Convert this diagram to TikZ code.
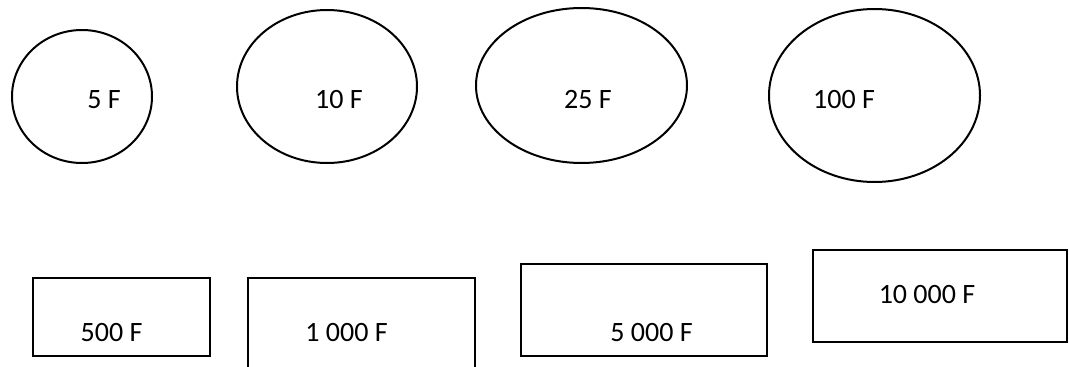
\documentclass[tikz,border=0pt]{standalone}
\usepackage{fontspec}
\setmainfont{Carlito}
\usetikzlibrary{shapes.geometric}
\tikzset{
  coin/.style={draw=black, line width=2pt, ellipse, inner sep=0pt, outer sep=0pt},
  note/.style={draw=black, line width=2pt, rectangle, inner sep=0pt, outer sep=0pt},
  val/.style={font=\fontsize{28}{32}\selectfont, inner sep=0pt, anchor=center}
}
\begin{document}
\begin{tikzpicture}[x=1pt,y=-1pt]
\useasboundingbox (0,0) rectangle (1069,367);
\clip (0,0) rectangle (1069,367);
% coins
\node[coin, minimum width=140, minimum height=133] (c5) at (82,96.5) {};
\node[val] (t5) at (104,99.5) {5 F};
\node[coin, minimum width=180, minimum height=153] (c10) at (327,86.5) {};
\node[val] (t10) at (339,99.5) {10 F};
\node[coin, minimum width=211, minimum height=155] (c25) at (581.5,85.5) {};
\node[val] (t25) at (588,99.5) {25 F};
\node[coin, minimum width=211, minimum height=173] (c100) at (874.5,95.5) {};
\node[val] (t100) at (844,99.5) {100 F};
% notes
\node[note, minimum width=177, minimum height=78] (n500) at (121.5,317) {};
\node[val] (t500) at (111.5,333) {500 F};
\node[note, minimum width=227, minimum height=89.5] (n1000) at (361.5,322.75) {};
\node[val] (t1000) at (346.5,333) {1 000 F};
\node[note, minimum width=246, minimum height=92] (n5000) at (644,310) {};
\node[val] (t5000) at (651.5,333) {5 000 F};
\node[note, minimum width=254, minimum height=92] (n10000) at (940,296) {};
\node[val] (t10000) at (927,295) {10 000 F};
\end{tikzpicture}
\end{document}
